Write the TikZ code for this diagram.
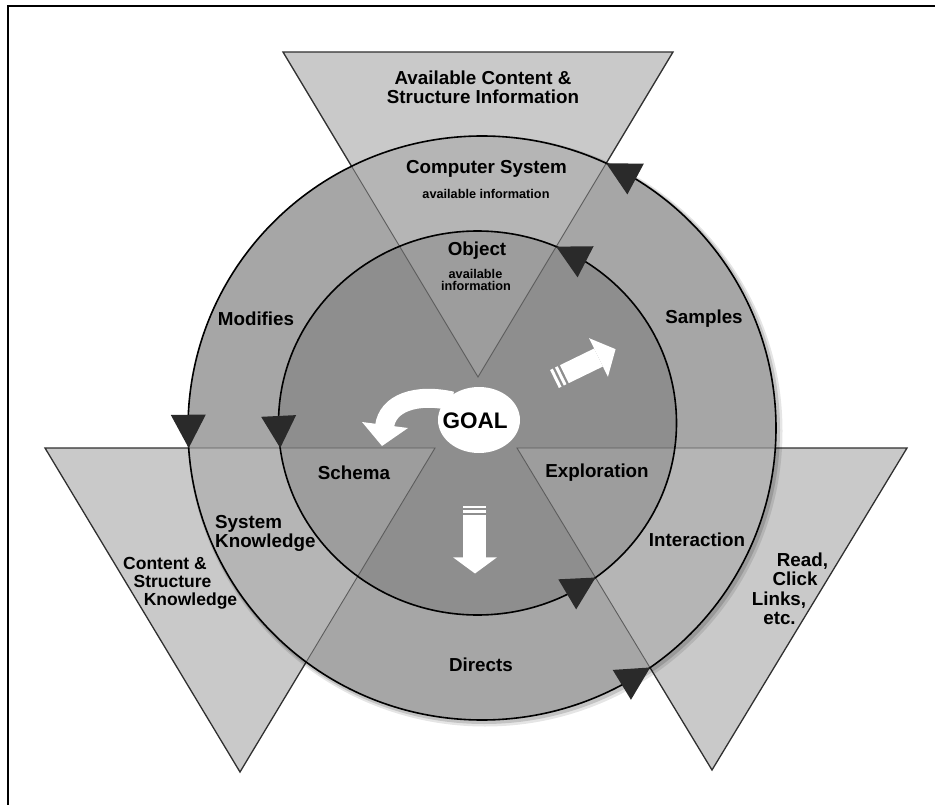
\documentclass[tikz,border=0pt]{standalone}
\usepackage{fontspec}
\setmainfont{Liberation Sans}
\usetikzlibrary{calc}
\definecolor{trifill}{HTML}{C9C9C9}
\definecolor{ringfill}{HTML}{A6A6A6}
\definecolor{ringlight}{HTML}{B5B5B5}
\definecolor{corefill}{HTML}{8E8E8E}
\definecolor{corelight}{HTML}{9D9D9D}
\definecolor{edgedark}{HTML}{303030}
\definecolor{edgein}{HTML}{5C5C5C}
\definecolor{headfill}{HTML}{2A2A2A}
\begin{document}
\begin{tikzpicture}[x=1pt,y=-1pt,
  lbl/.style={font=\bfseries\fontsize{18.8}{19.5}\selectfont, inner sep=0pt, anchor=base},
  lblb/.style={font=\bfseries\fontsize{17.5}{18}\selectfont, inner sep=0pt, anchor=base},
  small/.style={font=\bfseries\fontsize{12.7}{13}\selectfont, inner sep=0pt, anchor=base},
  goaltext/.style={font=\bfseries\fontsize{22.5}{23}\selectfont, inner sep=0pt, anchor=base},
  tri/.style={fill=trifill, draw=edgedark, line width=1.3pt, line join=miter},
  inedge/.style={draw=edgein, line width=0.9pt},
  ring/.style={draw=black, line width=1.6pt},
  ahead/.style={fill=headfill},
  whitearrow/.style={fill=white},
  softshadow/.style={draw=black, draw opacity=#1}
]
\useasboundingbox (0,0) rectangle (935,805);

% frame (top and left edges only)
\draw[line width=2pt] (7.5,805) -- (7.5,6.5) -- (935,6.5);

% geometry
\coordinate (Co) at (482,428);
\coordinate (Ci) at (477.5,423);
\coordinate (T1) at (283,52);  \coordinate (T2) at (673,52);  \coordinate (T3) at (478,377);
\coordinate (L1) at (45,448);  \coordinate (L2) at (435,448); \coordinate (L3) at (240,772);
\coordinate (R1) at (517,448); \coordinate (R2) at (907,448); \coordinate (R3) at (712,770);

% triangles
\path[tri] (T1) -- (T2) -- (T3) -- cycle;
\path[tri] (L1) -- (L2) -- (L3) -- cycle;
\path[tri] (R1) -- (R2) -- (R3) -- cycle;

% soft shadow of the outer ring
\path[softshadow=0.10, line width=7pt] ($(Co)+(3,3)$) ellipse [x radius=294, y radius=292];
\path[softshadow=0.15, line width=4pt] ($(Co)+(2,2)$) ellipse [x radius=294, y radius=292];

% rings
\fill[ringfill] (Co) ellipse [x radius=294, y radius=292];
\fill[corefill] (Ci) ellipse [x radius=199, y radius=192];
\begin{scope}
  \clip (T1) -- (T2) -- (T3) -- cycle (L1) -- (L2) -- (L3) -- cycle (R1) -- (R2) -- (R3) -- cycle;
  \fill[ringlight] (Co) ellipse [x radius=294, y radius=292];
  \fill[corelight] (Ci) ellipse [x radius=199, y radius=192];
\end{scope}
\begin{scope}
  \clip (Co) ellipse [x radius=294, y radius=292];
  \path[inedge] (T1) -- (T2) -- (T3) -- cycle;
  \path[inedge] (L1) -- (L2) -- (L3) -- cycle;
  \path[inedge] (R1) -- (R2) -- (R3) -- cycle;
\end{scope}
\path[ring] (Co) ellipse [x radius=294, y radius=292];
\path[ring] (Ci) ellipse [x radius=199, y radius=192];

% arrowheads on the rings (counter-clockwise flow)
\coordinate (o1t) at ($(Co)+(-65:294 and 292)$);   \coordinate (o1b) at ($(Co)+(-58.5:294 and 292)$);
\coordinate (o2t) at ($(Co)+(176.07:294 and 292)$); \coordinate (o2b) at ($(Co)+(182.6:294 and 292)$);
\coordinate (o3t) at ($(Co)+(55.1:294 and 292)$);   \coordinate (o3b) at ($(Co)+(61.6:294 and 292)$);
\coordinate (i1t) at ($(Ci)+(-66.7:199 and 192)$);  \coordinate (i1b) at ($(Ci)+(-57.1:199 and 192)$);
\coordinate (i2t) at ($(Ci)+(172.52:199 and 192)$); \coordinate (i2b) at ($(Ci)+(182.1:199 and 192)$);
\coordinate (i3t) at ($(Ci)+(53.6:199 and 192)$);   \coordinate (i3b) at ($(Ci)+(63.2:199 and 192)$);
\foreach \a in {o1,o2,o3,i1,i2,i3}{
  \fill[ahead] (\a t) -- ($(\a b)!17.5pt!90:(\a t)$) -- ($(\a b)!17.5pt!-90:(\a t)$) -- cycle;
}

% curved arrow from GOAL
\draw[white, line width=19pt] (452,401) .. controls (416,393) and (387,403) .. (384.5,427);
\fill[whitearrow] (362,422) -- (408,428) -- (382,446) -- cycle;
% GOAL blob
\fill[white] (479,420) ellipse [x radius=41, y radius=33];
\node[goaltext] (goal) at (475,428.3) {GOAL};

% arrow towards upper right
\begin{scope}[shift={(598.5,357.5)}, rotate=26]
  \fill[whitearrow] (-38,-10) rectangle (0,10);
  \fill[whitearrow] (-43.5,-10) rectangle (-40.5,10);
  \fill[whitearrow] (-49,-10) rectangle (-46,10);
  \fill[whitearrow] (0,-21.5) -- (19,0) -- (0,21.5) -- cycle;
\end{scope}

% arrow downwards
\fill[whitearrow] (463,515) rectangle (486,558);
\fill[whitearrow] (463,510) rectangle (486,513);
\fill[whitearrow] (463,505.5) rectangle (486,508);
\fill[whitearrow] (453,557.3) -- (497,557.3) -- (475,573.5) -- cycle;

% labels
\node[lbl] (avail1) at (483,85) {Available Content \&};
\node[lbl] (avail2) at (483,103.5) {Structure Information};
\node[lbl] (comp) at (486.5,173.5) {Computer System};
\node[small] (compinfo) at (486,199) {available information};
\node[lbl] (obj) at (477,256) {Object};
\node[small] (objinfo1) at (475.5,278.5) {available};
\node[small] (objinfo2) at (476,290.5) {information};
\node[lbl] (mod) at (256,326) {Modifies};
\node[lbl] (samp) at (704,323.3) {Samples};
\node[lbl] (schema) at (354,479) {Schema};
\node[lbl, anchor=base west] (sys1) at (215,528.3) {System};
\node[lbl, anchor=base west] (sys2) at (215,547) {Knowledge};
\node[lblb] (cs1) at (165,569) {Content \&};
\node[lblb] (cs2) at (172.5,587.5) {Structure};
\node[lblb] (cs3) at (190.5,605) {Knowledge};
\node[lbl] (expl) at (597,477.5) {Exploration};
\node[lbl] (inter) at (697,546.5) {Interaction};
\node[lbl] (rd1) at (802.5,566.5) {Read,};
\node[lbl] (rd2) at (795,585.5) {Click};
\node[lbl] (rd3) at (779,605) {Links,};
\node[lbl] (rd4) at (779.5,624) {etc.};
\node[lbl] (dir) at (481,671) {Directs};
\end{tikzpicture}
\end{document}
